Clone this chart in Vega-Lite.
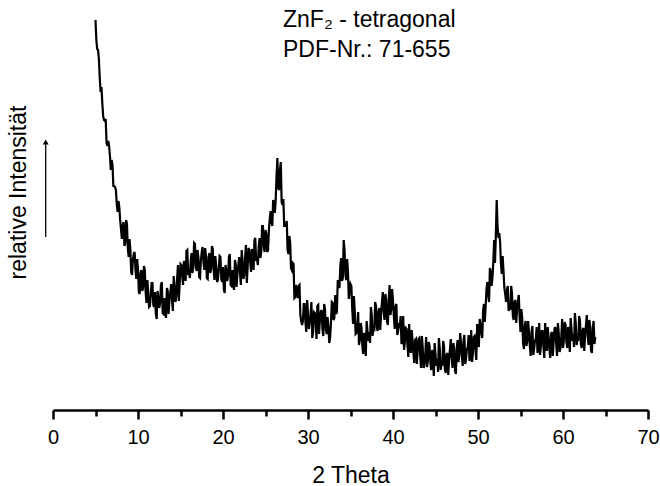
{
  "$schema": "https://vega.github.io/schema/vega-lite/v6.json",
  "width": 595,
  "height": 400,
  "autosize": {"type": "none"},
  "padding": {"left": 53, "top": 10, "right": 12, "bottom": 76},
  "background": "white",
  "config": {"view": {"stroke": null}, "font": "Liberation Sans"},
  "layer": [
    {
      "data": {"values": [
        {"t":5.0,"i":390},{"t":5.2,"i":361},{"t":5.4,"i":351},{"t":5.6,"i":318},{"t":5.8,"i":307},{"t":6.0,"i":290},{"t":6.2,"i":291},{"t":6.4,"i":264},{"t":6.6,"i":264},{"t":6.8,"i":240},
        {"t":7.0,"i":245},{"t":7.2,"i":224},{"t":7.4,"i":220},{"t":7.6,"i":198},{"t":7.8,"i":203},{"t":8.0,"i":181},{"t":8.2,"i":184},{"t":8.4,"i":164},{"t":8.6,"i":190},{"t":8.8,"i":162},
        {"t":9.0,"i":171},{"t":9.2,"i":138},{"t":9.4,"i":150},{"t":9.6,"i":158},{"t":9.8,"i":131},{"t":10.0,"i":141},{"t":10.2,"i":116},{"t":10.4,"i":140},{"t":10.6,"i":122},{"t":10.8,"i":140},
        {"t":11.0,"i":107},{"t":11.2,"i":119},{"t":11.4,"i":104},{"t":11.6,"i":127},{"t":11.8,"i":105},{"t":12.0,"i":118},{"t":12.2,"i":91},{"t":12.4,"i":112},{"t":12.6,"i":107},{"t":12.8,"i":128},
        {"t":13.0,"i":96},{"t":13.2,"i":101},{"t":13.4,"i":122},{"t":13.6,"i":96},{"t":13.8,"i":117},{"t":14.0,"i":110},{"t":14.2,"i":134},{"t":14.4,"i":108},{"t":14.6,"i":131},{"t":14.8,"i":109},
        {"t":15.0,"i":146},{"t":15.2,"i":134},{"t":15.4,"i":149},{"t":15.6,"i":129},{"t":15.8,"i":160},{"t":16.0,"i":138},{"t":16.2,"i":149},{"t":16.4,"i":137},{"t":16.6,"i":167},{"t":16.8,"i":144},
        {"t":17.0,"i":160},{"t":17.2,"i":133},{"t":17.4,"i":150},{"t":17.6,"i":163},{"t":17.8,"i":140},{"t":18.0,"i":154},{"t":18.2,"i":131},{"t":18.4,"i":157},{"t":18.6,"i":141},{"t":18.8,"i":161},
        {"t":19.0,"i":130},{"t":19.2,"i":144},{"t":19.4,"i":130},{"t":19.6,"i":154},{"t":19.8,"i":131},{"t":20.0,"i":143},{"t":20.2,"i":117},{"t":20.4,"i":139},{"t":20.6,"i":134},{"t":20.8,"i":156},
        {"t":21.0,"i":124},{"t":21.2,"i":129},{"t":21.4,"i":150},{"t":21.6,"i":123},{"t":21.8,"i":144},{"t":22.0,"i":137},{"t":22.2,"i":160},{"t":22.4,"i":131},{"t":22.6,"i":152},{"t":22.8,"i":127},
        {"t":23.0,"i":162},{"t":23.2,"i":148},{"t":23.4,"i":161},{"t":23.6,"i":140},{"t":23.8,"i":172},{"t":24.0,"i":151},{"t":24.2,"i":163},{"t":24.4,"i":152},{"t":24.6,"i":184},{"t":24.8,"i":163},
        {"t":25.0,"i":180},{"t":25.2,"i":158},{"t":25.4,"i":180},{"t":25.6,"i":199},{"t":25.8,"i":184},{"t":26.0,"i":206},{"t":26.2,"i":210},{"t":26.4,"i":252},{"t":26.6,"i":220},{"t":26.8,"i":248},
        {"t":27.0,"i":205},{"t":27.2,"i":184},{"t":27.4,"i":185},{"t":27.6,"i":160},{"t":27.8,"i":174},{"t":28.0,"i":142},{"t":28.2,"i":147},{"t":28.4,"i":112},{"t":28.6,"i":125},{"t":28.8,"i":112},
        {"t":29.0,"i":125},{"t":29.2,"i":89},{"t":29.4,"i":89},{"t":29.6,"i":106},{"t":29.8,"i":78},{"t":30.0,"i":97},{"t":30.2,"i":88},{"t":30.4,"i":108},{"t":30.6,"i":78},{"t":30.8,"i":97},
        {"t":31.0,"i":71},{"t":31.2,"i":105},{"t":31.4,"i":90},{"t":31.6,"i":100},{"t":31.8,"i":74},{"t":32.0,"i":101},{"t":32.2,"i":76},{"t":32.4,"i":83},{"t":32.6,"i":72},{"t":32.8,"i":108},
        {"t":33.0,"i":90},{"t":33.2,"i":115},{"t":33.4,"i":98},{"t":33.6,"i":124},{"t":33.8,"i":144},{"t":34.0,"i":129},{"t":34.2,"i":170},{"t":34.4,"i":135},{"t":34.6,"i":151},{"t":34.8,"i":111},
        {"t":35.0,"i":126},{"t":35.2,"i":102},{"t":35.4,"i":114},{"t":35.6,"i":76},{"t":35.8,"i":84},{"t":36.0,"i":65},{"t":36.2,"i":87},{"t":36.4,"i":63},{"t":36.6,"i":77},{"t":36.8,"i":54},
        {"t":37.0,"i":79},{"t":37.2,"i":78},{"t":37.4,"i":103},{"t":37.6,"i":74},{"t":37.8,"i":81},{"t":38.0,"i":104},{"t":38.2,"i":79},{"t":38.4,"i":102},{"t":38.6,"i":96},{"t":38.8,"i":118},
        {"t":39.0,"i":90},{"t":39.2,"i":110},{"t":39.4,"i":85},{"t":39.6,"i":125},{"t":39.8,"i":101},{"t":40.0,"i":109},{"t":40.2,"i":81},{"t":40.4,"i":106},{"t":40.6,"i":79},{"t":40.8,"i":84},
        {"t":41.0,"i":66},{"t":41.2,"i":94},{"t":41.4,"i":68},{"t":41.6,"i":81},{"t":41.8,"i":53},{"t":42.0,"i":68},{"t":42.2,"i":80},{"t":42.4,"i":57},{"t":42.6,"i":70},{"t":42.8,"i":46},
        {"t":43.0,"i":71},{"t":43.2,"i":54},{"t":43.4,"i":74},{"t":43.6,"i":42},{"t":43.8,"i":56},{"t":44.0,"i":43},{"t":44.2,"i":68},{"t":44.4,"i":47},{"t":44.6,"i":60},{"t":44.8,"i":34},
        {"t":45.0,"i":56},{"t":45.2,"i":51},{"t":45.4,"i":72},{"t":45.6,"i":40},{"t":45.8,"i":44},{"t":46.0,"i":64},{"t":46.2,"i":37},{"t":46.4,"i":57},{"t":46.6,"i":50},{"t":46.8,"i":71},
        {"t":47.0,"i":42},{"t":47.2,"i":61},{"t":47.4,"i":36},{"t":47.6,"i":70},{"t":47.8,"i":55},{"t":48.0,"i":67},{"t":48.2,"i":44},{"t":48.4,"i":75},{"t":48.6,"i":52},{"t":48.8,"i":63},
        {"t":49.0,"i":49},{"t":49.2,"i":80},{"t":49.4,"i":57},{"t":49.6,"i":74},{"t":49.8,"i":50},{"t":50.0,"i":70},{"t":50.2,"i":91},{"t":50.4,"i":77},{"t":50.6,"i":100},{"t":50.8,"i":88},
        {"t":51.0,"i":121},{"t":51.2,"i":115},{"t":51.4,"i":142},{"t":51.6,"i":124},{"t":51.8,"i":148},{"t":52.0,"i":147},{"t":52.2,"i":210},{"t":52.4,"i":172},{"t":52.6,"i":168},{"t":52.8,"i":136},
        {"t":53.0,"i":139},{"t":53.2,"i":116},{"t":53.4,"i":120},{"t":53.6,"i":99},{"t":53.8,"i":100},{"t":54.0,"i":117},{"t":54.2,"i":90},{"t":54.4,"i":110},{"t":54.6,"i":101},{"t":54.8,"i":115},
        {"t":55.0,"i":78},{"t":55.2,"i":92},{"t":55.4,"i":61},{"t":55.6,"i":89},{"t":55.8,"i":69},{"t":56.0,"i":77},{"t":56.2,"i":54},{"t":56.4,"i":84},{"t":56.6,"i":61},{"t":56.8,"i":71},
        {"t":57.0,"i":57},{"t":57.2,"i":87},{"t":57.4,"i":64},{"t":57.6,"i":79},{"t":57.8,"i":52},{"t":58.0,"i":70},{"t":58.2,"i":83},{"t":58.4,"i":61},{"t":58.6,"i":76},{"t":58.8,"i":54},
        {"t":59.0,"i":81},{"t":59.2,"i":66},{"t":59.4,"i":87},{"t":59.6,"i":58},{"t":59.8,"i":73},{"t":60.0,"i":62},{"t":60.2,"i":88},{"t":60.4,"i":68},{"t":60.6,"i":83},{"t":60.8,"i":58},
        {"t":61.0,"i":81},{"t":61.2,"i":76},{"t":61.4,"i":97},{"t":61.6,"i":65},{"t":61.8,"i":69},{"t":62.0,"i":89},{"t":62.2,"i":62},{"t":62.4,"i":82},{"t":62.6,"i":74},{"t":62.8,"i":95},
        {"t":63.0,"i":65},{"t":63.2,"i":83},{"t":63.4,"i":57},{"t":63.6,"i":89},{"t":63.8,"i":73},
        {"t":5.1,"i":370},{"t":5.3,"i":360},{"t":5.5,"i":332},{"t":5.7,"i":323},{"t":5.9,"i":294},{"t":6.1,"i":289},{"t":6.3,"i":267},{"t":6.5,"i":269},{"t":6.7,"i":254},{"t":6.9,"i":250},
        {"t":7.1,"i":224},{"t":7.3,"i":223},{"t":7.5,"i":206},{"t":7.7,"i":209},{"t":7.9,"i":190},{"t":8.1,"i":171},{"t":8.3,"i":188},{"t":8.5,"i":167},{"t":8.7,"i":186},{"t":8.9,"i":153},
        {"t":9.1,"i":161},{"t":9.3,"i":135},{"t":9.5,"i":156},{"t":9.7,"i":141},{"t":9.9,"i":151},{"t":10.1,"i":118},{"t":10.3,"i":137},{"t":10.5,"i":119},{"t":10.7,"i":144},{"t":10.9,"i":118},
        {"t":11.1,"i":130},{"t":11.3,"i":103},{"t":11.5,"i":114},{"t":11.7,"i":127},{"t":11.9,"i":103},{"t":12.1,"i":96},{"t":12.3,"i":119},{"t":12.5,"i":102},{"t":12.7,"i":125},{"t":12.9,"i":97},
        {"t":13.1,"i":112},{"t":13.3,"i":92},{"t":13.5,"i":119},{"t":13.7,"i":110},{"t":13.9,"i":126},{"t":14.1,"i":99},{"t":14.3,"i":124},{"t":14.5,"i":113},{"t":14.7,"i":145},{"t":14.9,"i":126},
        {"t":15.1,"i":145},{"t":15.3,"i":125},{"t":15.5,"i":143},{"t":15.7,"i":159},{"t":15.9,"i":137},{"t":16.1,"i":132},{"t":16.3,"i":157},{"t":16.5,"i":142},{"t":16.7,"i":166},{"t":16.9,"i":139},
        {"t":17.1,"i":153},{"t":17.3,"i":132},{"t":17.5,"i":158},{"t":17.7,"i":148},{"t":17.9,"i":162},{"t":18.1,"i":132},{"t":18.3,"i":153},{"t":18.5,"i":137},{"t":18.7,"i":164},{"t":18.9,"i":140},
        {"t":19.1,"i":154},{"t":19.3,"i":128},{"t":19.5,"i":141},{"t":19.7,"i":153},{"t":19.9,"i":128},{"t":20.1,"i":121},{"t":20.3,"i":145},{"t":20.5,"i":129},{"t":20.7,"i":153},{"t":20.9,"i":125},
        {"t":21.1,"i":140},{"t":21.3,"i":120},{"t":21.5,"i":146},{"t":21.7,"i":137},{"t":21.9,"i":153},{"t":22.1,"i":125},{"t":22.3,"i":149},{"t":22.5,"i":135},{"t":22.7,"i":165},{"t":22.9,"i":143},
        {"t":23.1,"i":160},{"t":23.3,"i":138},{"t":23.5,"i":154},{"t":23.7,"i":170},{"t":23.9,"i":149},{"t":24.1,"i":145},{"t":24.3,"i":172},{"t":24.5,"i":158},{"t":24.7,"i":184},{"t":24.9,"i":158},
        {"t":25.1,"i":176},{"t":25.3,"i":160},{"t":25.5,"i":191},{"t":25.7,"i":188},{"t":25.9,"i":210},{"t":26.1,"i":197},{"t":26.3,"i":235},{"t":26.5,"i":222},{"t":26.7,"i":240},{"t":26.9,"i":208},
        {"t":27.1,"i":211},{"t":27.3,"i":184},{"t":27.5,"i":189},{"t":27.7,"i":156},{"t":27.9,"i":168},{"t":28.1,"i":140},{"t":28.3,"i":146},{"t":28.5,"i":113},{"t":28.7,"i":118},{"t":28.9,"i":124},
        {"t":29.1,"i":95},{"t":29.3,"i":85},{"t":29.5,"i":106},{"t":29.7,"i":88},{"t":29.9,"i":110},{"t":30.1,"i":81},{"t":30.3,"i":94},{"t":30.5,"i":72},{"t":30.7,"i":98},{"t":30.9,"i":88},
        {"t":31.1,"i":104},{"t":31.3,"i":76},{"t":31.5,"i":98},{"t":31.7,"i":81},{"t":31.9,"i":106},{"t":32.1,"i":80},{"t":32.3,"i":93},{"t":32.5,"i":67},{"t":32.7,"i":87},{"t":32.9,"i":107},
        {"t":33.1,"i":92},{"t":33.3,"i":96},{"t":33.5,"i":130},{"t":33.7,"i":122},{"t":33.9,"i":152},{"t":34.1,"i":132},{"t":34.3,"i":160},{"t":34.5,"i":130},{"t":34.7,"i":139},{"t":34.9,"i":119},
        {"t":35.1,"i":124},{"t":35.3,"i":86},{"t":35.5,"i":99},{"t":35.7,"i":77},{"t":35.9,"i":98},{"t":36.1,"i":70},{"t":36.3,"i":82},{"t":36.5,"i":56},{"t":36.7,"i":72},{"t":36.9,"i":89},
        {"t":37.1,"i":69},{"t":37.3,"i":67},{"t":37.5,"i":95},{"t":37.7,"i":82},{"t":37.9,"i":108},{"t":38.1,"i":82},{"t":38.3,"i":99},{"t":38.5,"i":80},{"t":38.7,"i":108},{"t":38.9,"i":99},
        {"t":39.1,"i":116},{"t":39.3,"i":88},{"t":39.5,"i":111},{"t":39.7,"i":95},{"t":39.9,"i":121},{"t":40.1,"i":94},{"t":40.3,"i":104},{"t":40.5,"i":75},{"t":40.7,"i":85},{"t":40.9,"i":94},
        {"t":41.1,"i":68},{"t":41.3,"i":60},{"t":41.5,"i":82},{"t":41.7,"i":65},{"t":41.9,"i":86},{"t":42.1,"i":57},{"t":42.3,"i":70},{"t":42.5,"i":47},{"t":42.7,"i":71},{"t":42.9,"i":59},
        {"t":43.1,"i":72},{"t":43.3,"i":42},{"t":43.5,"i":62},{"t":43.7,"i":46},{"t":43.9,"i":73},{"t":44.1,"i":49},{"t":44.3,"i":64},{"t":44.5,"i":40},{"t":44.7,"i":53},{"t":44.9,"i":67},
        {"t":45.1,"i":44},{"t":45.3,"i":38},{"t":45.5,"i":62},{"t":45.7,"i":46},{"t":45.9,"i":69},{"t":46.1,"i":41},{"t":46.3,"i":55},{"t":46.5,"i":35},{"t":46.7,"i":61},{"t":46.9,"i":52},
        {"t":47.1,"i":67},{"t":47.3,"i":39},{"t":47.5,"i":62},{"t":47.7,"i":48},{"t":47.9,"i":77},{"t":48.1,"i":54},{"t":48.3,"i":70},{"t":48.5,"i":46},{"t":48.7,"i":61},{"t":48.9,"i":75},
        {"t":49.1,"i":53},{"t":49.3,"i":48},{"t":49.5,"i":73},{"t":49.7,"i":60},{"t":49.9,"i":86},{"t":50.1,"i":63},{"t":50.3,"i":85},{"t":50.5,"i":72},{"t":50.7,"i":106},{"t":50.9,"i":104},
        {"t":51.1,"i":128},{"t":51.3,"i":108},{"t":51.5,"i":138},{"t":51.7,"i":132},{"t":51.9,"i":170},{"t":52.1,"i":175},{"t":52.3,"i":184},{"t":52.5,"i":177},{"t":52.7,"i":146},{"t":52.9,"i":154},
        {"t":53.1,"i":122},{"t":53.3,"i":108},{"t":53.5,"i":124},{"t":53.7,"i":104},{"t":53.9,"i":124},{"t":54.1,"i":94},{"t":54.3,"i":108},{"t":54.5,"i":87},{"t":54.7,"i":109},{"t":54.9,"i":92},
        {"t":55.1,"i":101},{"t":55.3,"i":67},{"t":55.5,"i":84},{"t":55.7,"i":64},{"t":55.9,"i":89},{"t":56.1,"i":64},{"t":56.3,"i":79},{"t":56.5,"i":55},{"t":56.7,"i":69},{"t":56.9,"i":83},
        {"t":57.1,"i":60},{"t":57.3,"i":55},{"t":57.5,"i":79},{"t":57.7,"i":63},{"t":57.9,"i":87},{"t":58.1,"i":59},{"t":58.3,"i":73},{"t":58.5,"i":52},{"t":58.7,"i":78},{"t":58.9,"i":68},
        {"t":59.1,"i":83},{"t":59.3,"i":54},{"t":59.5,"i":77},{"t":59.7,"i":62},{"t":59.9,"i":91},{"t":60.1,"i":69},{"t":60.3,"i":85},{"t":60.5,"i":62},{"t":60.7,"i":77},{"t":60.9,"i":92},
        {"t":61.1,"i":69},{"t":61.3,"i":63},{"t":61.5,"i":87},{"t":61.7,"i":71},{"t":61.9,"i":94},{"t":62.1,"i":66},{"t":62.3,"i":80},{"t":62.5,"i":59},{"t":62.7,"i":85},{"t":62.9,"i":75},
        {"t":63.1,"i":90},{"t":63.3,"i":60},{"t":63.5,"i":82},{"t":63.7,"i":66}
      ]},
      "mark": {"type": "line", "color": "black", "strokeWidth": 2.2, "strokeJoin": "miter"},
      "encoding": {
        "x": {
          "field": "t", "type": "quantitative",
          "scale": {"domain": [0, 70], "nice": false, "zero": false},
          "axis": {
            "title": "2 Theta",
            "values": [0, 5, 10, 15, 20, 25, 30, 35, 40, 45, 50, 55, 60, 65, 70],
            "labelExpr": "datum.value % 10 === 0 ? datum.label : ''",
            "grid": false,
            "domainColor": "black", "domainWidth": 2.5,
            "tickColor": "black", "tickWidth": 2.5,
            "tickSize": {"condition": {"test": "datum.value % 10 === 0", "value": 9}, "value": 6},
            "labelFont": "Liberation Sans", "labelFontSize": 20, "labelColor": "black",
            "labelBaseline": "alphabetic", "labelPadding": 24, "labelFlush": false, "labelOverlap": false,
            "titleFont": "Liberation Sans", "titleFontSize": 23, "titleFontWeight": "normal", "titleColor": "black",
            "titleBaseline": "alphabetic", "titleY": 72
          }
        },
        "y": {
          "field": "i", "type": "quantitative",
          "scale": {"domain": [0, 400], "nice": false, "zero": false},
          "axis": {
            "title": "relative Intensität",
            "domain": false, "ticks": false, "labels": false, "grid": false,
            "titleFont": "Liberation Sans", "titleFontSize": 23, "titleFontWeight": "normal", "titleColor": "black",
            "titleAngle": 270, "titleAlign": "center", "titleBaseline": "alphabetic",
            "titleX": -28, "titleY": 182
          }
        }
      }
    },
    {
      "data": {"values": [
        {"t": 27.06, "i": 383, "label": "ZnF₂ - tetragonal"},
        {"t": 27.06, "i": 353, "label": "PDF-Nr.: 71-655"}
      ]},
      "mark": {"type": "text", "align": "left", "baseline": "alphabetic", "font": "Liberation Sans", "fontSize": 23, "color": "black"},
      "encoding": {
        "x": {"field": "t", "type": "quantitative"},
        "y": {"field": "i", "type": "quantitative"},
        "text": {"field": "label"}
      }
    },
    {
      "data": {"values": [{"t": -0.86, "i": 173, "i2": 266}]},
      "mark": {"type": "rule", "color": "black", "strokeWidth": 1.3},
      "encoding": {
        "x": {"field": "t", "type": "quantitative"},
        "y": {"field": "i", "type": "quantitative"},
        "y2": {"field": "i2"}
      }
    },
    {
      "data": {"values": [{"t": -0.86, "i": 268}]},
      "mark": {"type": "point", "shape": "triangle-up", "filled": true, "color": "black", "size": 35, "opacity": 1},
      "encoding": {
        "x": {"field": "t", "type": "quantitative"},
        "y": {"field": "i", "type": "quantitative"}
      }
    }
  ]
}
